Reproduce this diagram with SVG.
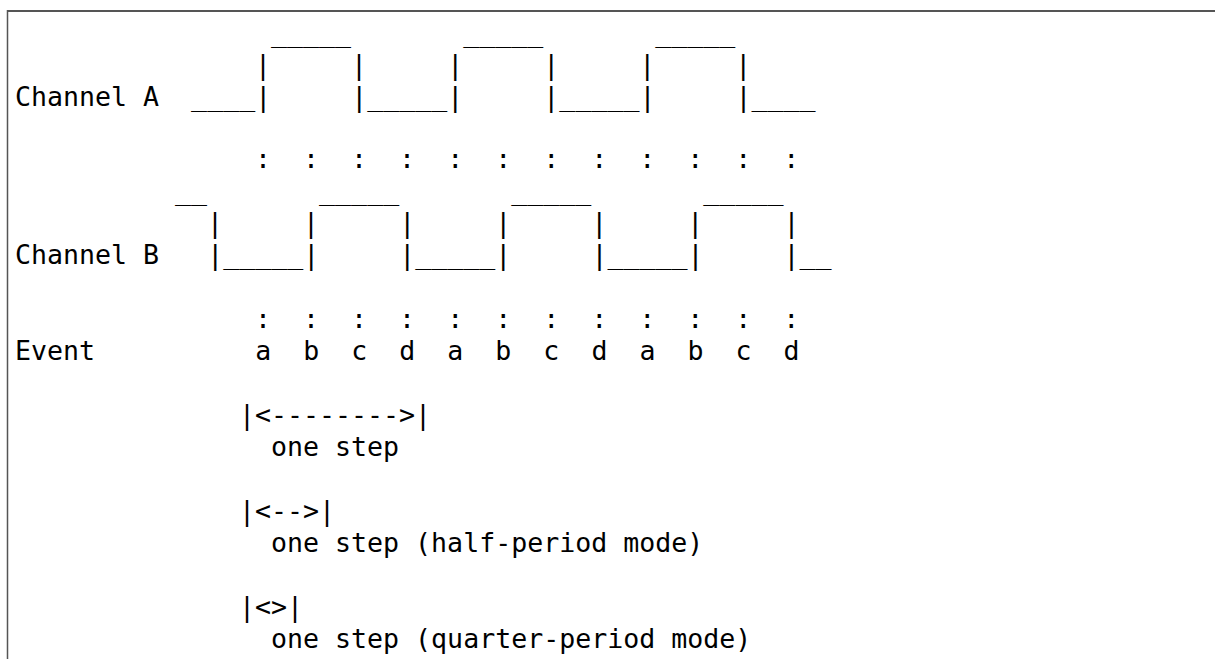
<svg xmlns="http://www.w3.org/2000/svg" width="1215" height="659" viewBox="0 0 1215 659">
<style>
  .t { font-family: "DejaVu Sans Mono", "Liberation Mono", monospace; font-size: 26.6px; fill: #000; white-space: pre; }
  .frame { stroke: #555; fill: none; }
</style>
<rect x="0" y="0" width="1215" height="659" fill="#fff"/>
<g id="frame">
  <line class="frame" x1="7" y1="11" x2="1215" y2="11" stroke-width="2"/>
  <line class="frame" x1="7.5" y1="10" x2="7.5" y2="659" stroke-width="1.5"/>
</g>
<g id="channel-a">
  <text class="t" x="271" y="41.5" xml:space="preserve">_____       _____       _____</text>
  <text class="t" x="255" y="73.5" xml:space="preserve">|     |     |     |     |     |</text>
  <text class="t" x="15" y="106" xml:space="preserve">Channel A  ____|     |_____|     |_____|     |____</text>
  <text class="t" x="255" y="168" xml:space="preserve">:  :  :  :  :  :  :  :  :  :  :  :</text>
</g>
<g id="channel-b">
  <text class="t" x="175" y="200" xml:space="preserve">__       _____       _____       _____</text>
  <text class="t" x="207" y="232" xml:space="preserve">|     |     |     |     |     |     |</text>
  <text class="t" x="15" y="264" xml:space="preserve">Channel B   |_____|     |_____|     |_____|     |__</text>
  <text class="t" x="255" y="328" xml:space="preserve">:  :  :  :  :  :  :  :  :  :  :  :</text>
</g>
<g id="events">
  <text class="t" x="15" y="360" xml:space="preserve">Event          a  b  c  d  a  b  c  d  a  b  c  d</text>
</g>
<g id="legend">
  <text class="t" x="239" y="424" xml:space="preserve">|&lt;--------&gt;|</text>
  <text class="t" x="271" y="456" xml:space="preserve">one step</text>
  <text class="t" x="239" y="520" xml:space="preserve">|&lt;--&gt;|</text>
  <text class="t" x="271" y="552" xml:space="preserve">one step (half-period mode)</text>
  <text class="t" x="239" y="616" xml:space="preserve">|&lt;&gt;|</text>
  <text class="t" x="271" y="648" xml:space="preserve">one step (quarter-period mode)</text>
</g>
</svg>
